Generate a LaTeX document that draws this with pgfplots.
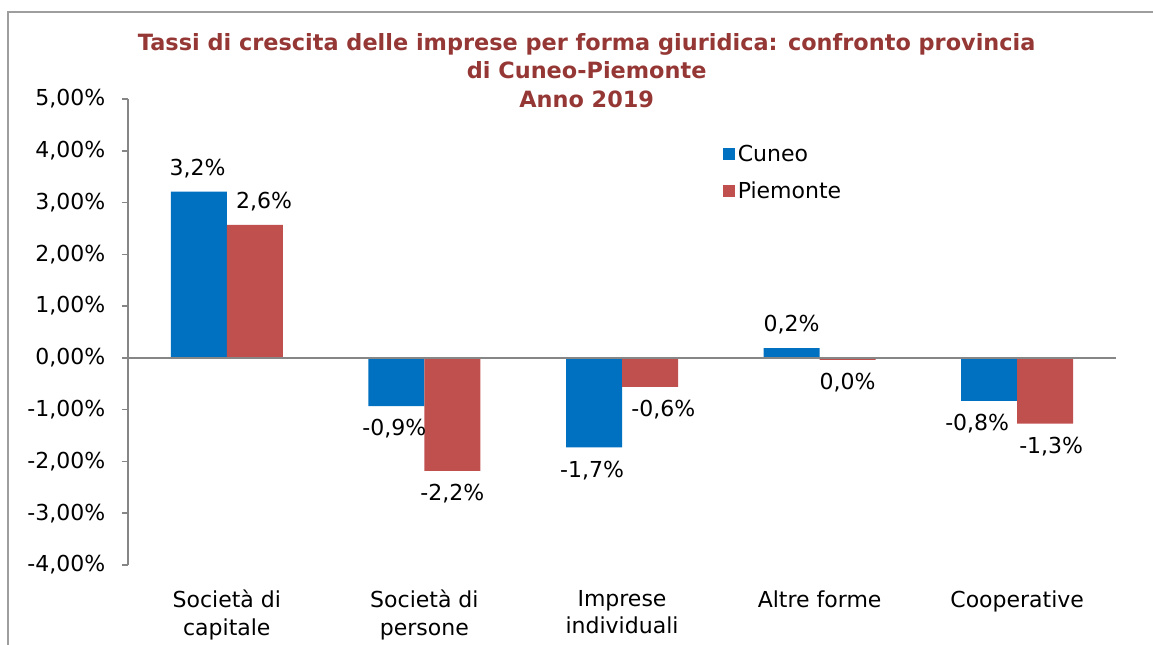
\documentclass[border=0pt]{standalone}
\usepackage{fontspec}
\setmainfont{DejaVu Sans}
\usepackage{pgfplots}
\pgfplotsset{compat=1.18}

\definecolor{cuneo}{HTML}{0070C0}
\definecolor{piemonte}{HTML}{C0504D}
\definecolor{axgray}{HTML}{868686}
\definecolor{titlered}{HTML}{953735}

% x: category, y: rate (%), lbl: data label, dx: label offset (pt)
\pgfplotstableread{
x y lbl dx
0 3.21 3,2\% -1
1 -0.93 -0,9\% -1.5
2 -1.73 -1,7\% -1.5
3 0.19 0,2\% 0
4 -0.83 -0,8\% -9
}\cuneo
\pgfplotstableread{
x y lbl dx
0 2.57 2,6\% 7
1 -2.18 -2,2\% 0
2 -0.56 -0,6\% 10
3 -0.04 0,0\% 0
4 -1.27 -1,3\% 4.5
}\piemonte

\begin{document}
\begin{tikzpicture}
\useasboundingbox (0,0) rectangle (864.75pt,483.75pt);
% outer frame
\draw[color=axgray!80, line width=1.1pt] (6pt,0) -- (6pt,474.75pt) -- (864.75pt,474.75pt);
% title
\node[anchor=north, inner sep=0pt, align=center, text=titlered,
      font=\fontsize{16.8}{21.5}\selectfont\bfseries] at (440pt,459pt)
  {Tassi di crescita delle imprese per forma giuridica: confronto provincia\\di Cuneo-Piemonte\\Anno 2019};

\begin{axis}[
  at={(96pt,60pt)}, anchor=south west,
  scale only axis,
  width=741pt, height=349.5pt,
  ybar=0pt,
  bar width=42pt,
  xmin=-0.5, xmax=4.5,
  ymin=-4, ymax=5,
  xtick={0,1,2,3,4},
  xticklabels={{Società di\\capitale},{Società di\\persone},{Imprese\\individuali},{Altre forme},{Cooperative}},
  xticklabel style={align=center, font=\fontsize{16.5}{20.5}\selectfont, yshift=-11pt, anchor=north},
  ytick={-4,-3,...,5},
  yticklabel={\pgfmathprintnumber{\tick}\%},
  /pgf/number format/.cd, fixed, fixed zerofill, precision=2, use comma, assume math mode=true,
  /pgfplots/.cd,
  yticklabel style={font=\fontsize{16.5}{18}\selectfont, xshift=-9pt},
  axis y line*=left,
  axis x line*=bottom,
  x axis line style={draw=none},
  y axis line style={color=axgray, line width=1.1pt},
  xtick style={draw=none},
  ytick style={color=axgray, line width=1.1pt},
  tick align=outside,
  major tick length=4.5pt,
  nodes near coords,
  point meta=explicit symbolic,
  visualization depends on={y \as \rawy},
  visualization depends on={\thisrow{dx} \as \dx},
  every node near coord/.append style={font=\fontsize{16.5}{18}\selectfont, text=black,
    inner sep=10pt, xshift=\dx pt, anchor={\ifdim\rawy pt<0pt north\else south\fi}},
  legend style={at={(0.598,0.914)}, anchor=north west, draw=none, fill=none,
    font=\fontsize{16.5}{18}\selectfont, row sep=10pt},
  legend cell align=left,
  legend image code/.code={\fill[#1] (-3pt,-4.5pt) rectangle (6pt,4.5pt);},
]
\addplot[fill=cuneo, draw=none] table[x=x, y=y, meta=lbl] {\cuneo};
\addplot[fill=piemonte, draw=none] table[x=x, y=y, meta=lbl] {\piemonte};
\legend{Cuneo,Piemonte}
\draw[color=axgray, line width=1.5pt] (axis cs:-0.5,0) -- (axis cs:4.5,0);
\end{axis}
\end{tikzpicture}
\end{document}
